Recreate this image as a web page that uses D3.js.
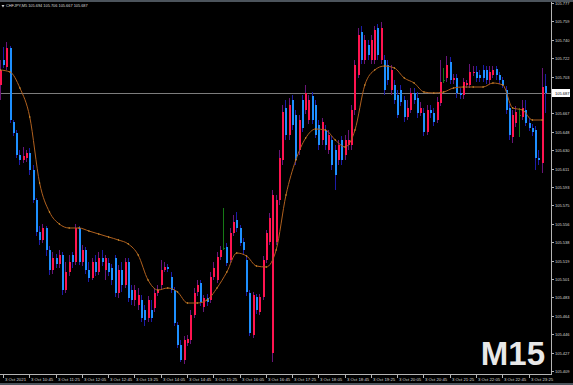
<!DOCTYPE html>
<html>
<head>
<meta charset="utf-8">
<script src="https://cdn.jsdelivr.net/npm/d3@7"></script>
<style>
  html, body { margin: 0; padding: 0; background: #000; overflow: hidden; }
  svg { display: block; }
</style>
</head>
<body>
<svg id="viz"></svg>
<script>
// window sizing
var width = 573,
	height = 385;

// header info
var symbolName = "CHFJPY,M5";
var lastBar = [105.694, 105.706, 105.667, 105.687];
var timeframeLabel = "M15";
var bidPrice = 105.687;

// first bar time, bar length in minutes
var startTime = new Date(2021, 9, 3, 10, 0);
var barMinutes = 5;

// M5 candles (prices)
var opens = [
	105.695,105.720,105.713,105.732,105.658,105.647,105.625,105.620,105.622,105.627,
	105.610,105.580,105.548,105.540,105.552,105.530,105.510,105.522,105.516,105.525,
	105.490,105.508,105.525,105.518,105.552,105.518,105.530,105.510,105.502,105.518,
	105.508,105.522,105.510,105.517,105.512,105.522,105.487,105.510,105.495,105.518,
	105.490,105.480,105.475,105.480,105.470,105.462,105.470,105.472,105.487,105.495,
	105.510,105.513,105.503,105.490,105.455,105.435,105.420,105.437,105.440,105.465,
	105.488,105.497,105.473,105.482,105.480,105.503,105.500,105.523,105.532,105.533,
	105.520,105.547,105.560,105.552,105.538,105.520,105.487,105.445,105.483,105.468,
	105.483,105.520,105.538,105.427,105.538,105.580,105.620,105.672,105.645,105.680,
	105.665,105.630,105.680,105.670,105.660,105.684,105.675,105.655,105.640,105.650,
	105.630,105.640,105.630,105.620,105.640,105.625,105.635,105.635,105.670,105.705,
	105.748,105.720,105.735,105.720,105.720,105.752,105.720,105.720,105.715,105.690,
	105.695,105.685,105.690,105.680,105.663,105.670,105.687,105.682,105.667,105.667,
	105.648,105.670,105.667,105.660,105.677,105.700,105.702,105.718,105.700,105.702,
	105.687,105.685,105.695,105.695,105.707,105.708,105.705,105.710,105.710,105.700,
	105.705,105.711,105.705,105.700,105.690,105.672,105.643,105.657,105.665,105.663,
	105.670,105.657,105.652,105.650,105.622,105.617,105.694
];
var highs = [
	105.720,105.733,105.738,105.734,105.660,105.650,105.630,105.633,105.630,105.632,
	105.615,105.582,105.554,105.556,105.554,105.534,105.528,105.526,105.530,105.528,
	105.518,105.525,105.528,105.556,105.554,105.535,105.533,105.518,105.522,105.525,
	105.528,105.530,105.525,105.522,105.516,105.525,105.515,105.518,105.522,105.522,
	105.495,105.495,105.492,105.485,105.475,105.484,105.480,105.492,105.495,105.520,
	105.518,105.516,105.508,105.493,105.458,105.440,105.444,105.445,105.470,105.492,
	105.500,105.500,105.485,105.486,105.508,105.518,105.528,105.534,105.572,105.537,
	105.552,105.565,105.568,105.555,105.542,105.524,105.490,105.488,105.486,105.486,
	105.524,105.550,105.567,105.590,105.585,105.630,105.675,105.680,105.682,105.685,
	105.670,105.665,105.685,105.695,105.685,105.688,105.680,105.660,105.662,105.655,
	105.650,105.644,105.635,105.640,105.644,105.645,105.650,105.675,105.720,105.752,
	105.754,105.745,105.740,105.745,105.754,105.756,105.758,105.725,105.720,105.715,
	105.700,105.690,105.695,105.684,105.680,105.692,105.692,105.688,105.678,105.672,
	105.675,105.675,105.672,105.683,105.720,105.712,105.724,105.723,105.706,105.706,
	105.692,105.702,105.700,105.716,105.714,105.714,105.710,105.715,105.714,105.714,
	105.714,105.714,105.708,105.703,105.694,105.676,105.670,105.674,105.672,105.680,
	105.680,105.662,105.656,105.654,105.630,105.712,105.706
];
var lows = [
	105.680,105.712,105.710,105.657,105.644,105.622,105.615,105.617,105.618,105.605,
	105.577,105.544,105.535,105.537,105.524,105.505,105.506,105.512,105.512,105.485,
	105.487,105.504,105.512,105.515,105.515,105.514,105.506,105.498,105.500,105.504,
	105.505,105.514,105.500,105.504,105.495,105.483,105.482,105.488,105.492,105.478,
	105.475,105.474,105.470,105.458,105.454,105.458,105.458,105.468,105.484,105.490,
	105.508,105.508,105.487,105.454,105.432,105.418,105.416,105.434,105.436,105.462,
	105.484,105.474,105.468,105.474,105.477,105.500,105.497,105.520,105.530,105.514,
	105.517,105.544,105.548,105.534,105.526,105.484,105.444,105.442,105.466,105.465,
	105.480,105.517,105.535,105.418,105.535,105.575,105.615,105.640,105.640,105.650,
	105.615,105.625,105.648,105.666,105.656,105.656,105.642,105.630,105.635,105.630,
	105.626,105.610,105.590,105.615,105.615,105.620,105.630,105.630,105.665,105.702,
	105.716,105.716,105.720,105.716,105.716,105.720,105.716,105.685,105.695,105.685,
	105.676,105.662,105.674,105.658,105.660,105.667,105.676,105.662,105.664,105.644,
	105.645,105.662,105.654,105.657,105.674,105.697,105.698,105.696,105.696,105.682,
	105.681,105.681,105.692,105.692,105.704,105.698,105.698,105.698,105.696,105.696,
	105.702,105.700,105.696,105.692,105.666,105.640,105.637,105.653,105.643,105.660,
	105.654,105.649,105.644,105.610,105.615,105.607,105.667
];
var closes = [
	105.710,105.715,105.732,105.660,105.647,105.625,105.620,105.624,105.627,105.610,
	105.580,105.548,105.540,105.552,105.530,105.510,105.522,105.516,105.525,105.490,
	105.508,105.518,105.518,105.552,105.518,105.530,105.510,105.502,105.518,105.508,
	105.522,105.518,105.522,105.508,105.500,105.487,105.510,105.495,105.518,105.482,
	105.480,105.490,105.485,105.462,105.460,105.480,105.462,105.487,105.490,105.510,
	105.513,105.511,105.490,105.457,105.435,105.420,105.440,105.441,105.465,105.487,
	105.495,105.478,105.482,105.478,105.503,105.512,105.523,105.530,105.532,105.517,
	105.547,105.558,105.552,105.537,105.530,105.488,105.447,105.485,105.470,105.483,
	105.520,105.547,105.562,105.585,105.580,105.622,105.668,105.645,105.675,105.655,
	105.620,105.660,105.652,105.687,105.680,105.660,105.645,105.635,105.658,105.635,
	105.645,105.615,105.605,105.635,105.620,105.640,105.640,105.670,105.715,105.745,
	105.720,105.740,105.725,105.740,105.750,105.725,105.752,105.690,105.700,105.710,
	105.680,105.665,105.678,105.663,105.672,105.687,105.680,105.667,105.672,105.648,
	105.670,105.667,105.658,105.678,105.698,105.700,105.715,105.700,105.702,105.687,
	105.685,105.698,105.697,105.708,105.708,105.702,105.702,105.702,105.700,105.708,
	105.710,105.705,105.700,105.695,105.670,105.645,105.665,105.668,105.665,105.672,
	105.657,105.652,105.648,105.622,105.620,105.693,105.687
];

// M15 moving average, one value per 3 bars (bar 0, 3, 6 ...)
var maValues = [
	105.710,105.708,105.692,105.663,105.597,105.568,105.556,105.552,105.552,105.549,
	105.546,105.543,105.540,105.536,105.525,105.500,105.490,105.492,105.488,105.477,
	105.477,105.480,105.492,105.508,105.527,105.524,105.514,105.513,105.530,105.585,
	105.620,105.642,105.651,105.650,105.640,105.633,105.650,105.695,105.710,105.714,
	105.712,105.702,105.697,105.688,105.687,105.688,105.692,105.693,105.693,105.693,
	105.697,105.695,105.672,105.670,105.660,105.660
];
var maStep = 3;

// price scale labels (the one under the bid marker is hidden)
var priceTicks = [105.777,105.759,105.740,105.722,105.703,105.667,105.648,105.630,
	105.611,105.593,105.575,105.556,105.538,105.519,105.501,105.483,105.464,105.446,105.427,105.409];

// plot box
var plotRight = 551,
	plotTop = 2,
	plotBottom = 374;

var svg = d3.select("#viz").attr("width", width).attr("height", height)
	.style("font-family", "'Liberation Sans', Arial, sans-serif");

// background
svg.append("rect").attr("width", width).attr("height", height).attr("fill", "#000");

// build bar records
var bars = opens.map(function(o, i) {
	return {
		i: i,
		time: d3.timeMinute.offset(startTime, i * barMinutes),
		open: o, high: highs[i], low: lows[i], close: closes[i]
	};
});

var maPoints = maValues.map(function(v, k) { return {i: k * maStep, ma: v}; });

// scales
var x = d3.scaleLinear().domain([0, 166]).range([-0.3, -0.3 + 3.285 * 166]);
var y = d3.scaleLinear().domain([105.408, 105.780]).range([372, 0]);

svg.append("clipPath").attr("id", "plotClip")
	.append("rect").attr("x", 0).attr("y", plotTop)
	.attr("width", plotRight).attr("height", plotBottom - plotTop);

var plot = svg.append("g").attr("clip-path", "url(#plotClip)");

// bid line
plot.append("line")
	.attr("x1", 0).attr("x2", plotRight)
	.attr("y1", Math.round(y(bidPrice)) + 0.5).attr("y2", Math.round(y(bidPrice)) + 0.5)
	.attr("stroke", "#7c7c7c").attr("stroke-width", 1);

function candleColor(d, up, down, flat) {
	if (d.close > d.open) return up;
	if (d.close < d.open) return down;
	return flat;
}

// wicks
plot.append("g").attr("class", "wicks")
	.selectAll("line")
	.data(bars)
	.enter()
	.append("line")
	.attr("x1", function(d) { return Math.round(x(d.i)) + 0.5; })
	.attr("x2", function(d) { return Math.round(x(d.i)) + 0.5; })
	.attr("y1", function(d) { return y(d.high); })
	.attr("y2", function(d) { return y(d.low); })
	.attr("stroke", function(d) { return candleColor(d, "#6a1478", "#1c1ca8", "#167a16"); })
	.attr("stroke-width", 1);

// bodies
plot.append("g").attr("class", "bodies")
	.selectAll("rect")
	.data(bars)
	.enter()
	.append("rect")
	.attr("x", function(d) { return Math.round(x(d.i)) - 0.5; })
	.attr("width", 2)
	.attr("y", function(d) { return y(Math.max(d.open, d.close)); })
	.attr("height", function(d) { return Math.max(1, Math.abs(y(d.open) - y(d.close))); })
	.attr("fill", function(d) { return candleColor(d, "#ff1450", "#1e90ff", "#167a16"); })
	.attr("shape-rendering", "crispEdges");

// moving average line
var maLine = d3.line()
	.x(function(d) { return x(d.i) + 0.5; })
	.y(function(d) { return y(d.ma); })
	.curve(d3.curveMonotoneX);

plot.append("path")
	.datum(maPoints)
	.attr("d", maLine)
	.attr("fill", "none")
	.attr("stroke", "#b0601e")
	.attr("stroke-width", 1);

// M15 points on the average
plot.append("g").attr("class", "maDots")
	.selectAll("circle")
	.data(maPoints)
	.enter()
	.append("circle")
	.attr("cx", function(d) { return x(d.i) + 0.5; })
	.attr("cy", function(d) { return y(d.ma); })
	.attr("r", 0.7)
	.attr("fill", "#e0a030");

// price axis
var yAxis = svg.append("g").attr("class", "priceAxis");
yAxis.append("line")
	.attr("x1", plotRight + 0.5).attr("x2", plotRight + 0.5)
	.attr("y1", 0).attr("y2", plotBottom + 1)
	.attr("stroke", "#b4b4b4");

var ticksY = yAxis.selectAll("g.tick")
	.data(priceTicks)
	.enter()
	.append("g")
	.attr("class", "tick")
	.attr("transform", function(d) { return "translate(0," + (Math.round(y(d)) + 0.5) + ")"; });
ticksY.append("line")
	.attr("x1", plotRight).attr("x2", plotRight + 3)
	.attr("stroke", "#b4b4b4");
ticksY.append("text")
	.attr("x", plotRight + 4)
	.attr("y", 1.4)
	.attr("fill", "#d8d8d8")
	.style("font-size", "4px")
	.text(function(d) { return d3.format(".3f")(d); });

// current price marker
var bidY = Math.round(y(bidPrice));
yAxis.append("rect")
	.attr("x", plotRight + 1).attr("y", bidY - 4)
	.attr("width", 18).attr("height", 8)
	.attr("fill", "#ffffff");
yAxis.append("text")
	.attr("x", plotRight + 4).attr("y", bidY + 1.9)
	.attr("fill", "#000")
	.style("font-size", "4px")
	.text(d3.format(".3f")(bidPrice));

// time axis
var xAxis = svg.append("g").attr("class", "timeAxis");
xAxis.append("line")
	.attr("x1", 0).attr("x2", plotRight + 1)
	.attr("y1", plotBottom + 0.5).attr("y2", plotBottom + 0.5)
	.attr("stroke", "#b4b4b4");

var labelBars = bars.filter(function(d) { return d.i % 8 == 1; });
var fmtFirst = d3.timeFormat("%-d %b %Y"),
	fmtTime = d3.timeFormat("%-d %b %H:%M");

var ticksX = xAxis.selectAll("g.tick")
	.data(labelBars)
	.enter()
	.append("g")
	.attr("class", "tick")
	.attr("transform", function(d) { return "translate(" + (Math.round(x(d.i)) + 0.5) + ",0)"; });
ticksX.append("line")
	.attr("y1", plotBottom).attr("y2", plotBottom + 4)
	.attr("stroke", "#b4b4b4");
ticksX.append("text")
	.attr("x", 1.5)
	.attr("y", plotBottom + 7)
	.attr("fill", "#d8d8d8")
	.style("font-size", "4.3px")
	.text(function(d, k) { return k == 0 ? fmtFirst(d.time) : fmtTime(d.time); });

// window strips top and bottom
svg.append("rect").attr("x", 0).attr("y", 0).attr("width", width).attr("height", 2).attr("fill", "#4c545c");
svg.append("rect").attr("x", 0).attr("y", 383).attr("width", width).attr("height", 2).attr("fill", "#4c545c");

// header line
svg.append("path")
	.attr("d", "M1.5,5 L4.5,5 L3,7.5 Z")
	.attr("fill", "#d0d0d0");
svg.append("text")
	.attr("x", 6).attr("y", 7.4)
	.attr("fill", "#d8d8d8")
	.style("font-size", "3.9px")
	.text(symbolName + " " + lastBar.map(d3.format(".3f")).join(" "));

// timeframe label
svg.append("text")
	.attr("x", 545).attr("y", 365)
	.attr("text-anchor", "end")
	.attr("fill", "#e8e8e8")
	.style("font-size", "33px")
	.style("font-weight", "bold")
	.text(timeframeLabel);
</script>
</body>
</html>
